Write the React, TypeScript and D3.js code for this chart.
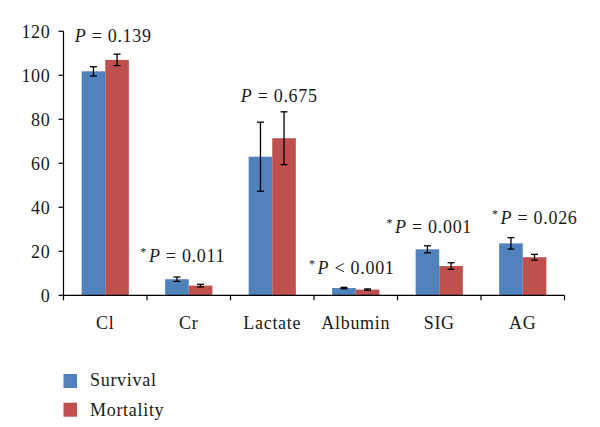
import React from "react";
import * as d3 from "d3";

const categories = ["Cl", "Cr", "Lactate", "Albumin", "SIG", "AG"];
const seriesNames = ["Survival", "Mortality"];
const survival = [101.8, 7.3, 63, 3.3, 20.9, 23.6];
const survivalErr = [2.1, 1.0, 15.7, 0.3, 1.6, 2.6];
const mortality = [107, 4.4, 71.4, 2.6, 13.3, 17.3];
const mortalityErr = [2.6, 0.6, 12, 0.3, 1.5, 1.3];
const yTicks = [0, 20, 40, 60, 80, 100, 120];
const pStar = [false, true, false, true, true, true];
const pText = ["= 0.139", "= 0.011", "= 0.675", "< 0.001", "= 0.001", "= 0.026"];
const pLevel = [115, 15.3, 88, 9.7, 28.3, 32.4];
const pShift = [8, -6, 7, -4, -10, 12];

const colors = ["#4F81BD", "#C0504D"];
const FONT = "'Liberation Serif', 'Times New Roman', serif";
const LS = 0.7;

export default function App() {
  const W = 600, H = 427;
  const x0 = 63.5, x1 = 564.5;
  const yBase = 295.3, yTop = 31.3;
  const x = d3.scaleBand<string>().domain(categories).range([x0, x1]).paddingInner(0).paddingOuter(0);
  const y = d3.scaleLinear().domain([0, 120]).range([yBase, yTop]);
  const bw = x.bandwidth();
  const groupW = bw * 0.565;
  const sub = d3.scaleBand<number>().domain([0, 1]).range([0, groupW]);
  const series = [
    { vals: survival, errs: survivalErr },
    { vals: mortality, errs: mortalityErr },
  ];
  return (
    <svg width={W} height={H} style={{ position: "absolute", left: 0, top: 0, background: "#fff" }} fontFamily={FONT} letterSpacing={LS}>
      {series.map((s, si) =>
        categories.map((c, i) => {
          const bx = (x(c) as number) + (bw - groupW) / 2 + (sub(si) as number);
          const cx = bx + sub.bandwidth() / 2;
          const v = s.vals[i], e = s.errs[i];
          return (
            <g key={`${si}-${i}`}>
              <rect x={bx} y={y(v)} width={sub.bandwidth()} height={y(0) - y(v)} fill={colors[si]} />
              <line x1={cx} x2={cx} y1={y(v + e)} y2={y(v - e)} stroke="#000" strokeWidth={1.3} />
              <line x1={cx - 3.5} x2={cx + 3.5} y1={y(v + e)} y2={y(v + e)} stroke="#000" strokeWidth={1.3} />
              <line x1={cx - 3.5} x2={cx + 3.5} y1={y(v - e)} y2={y(v - e)} stroke="#000" strokeWidth={1.3} />
            </g>
          );
        })
      )}
      {/* y axis */}
      <line x1={x0} x2={x0} y1={y(0)} y2={y(120)} stroke="#000" strokeWidth={1.2} />
      {yTicks.map((t) => (
        <g key={t}>
          <line x1={x0 - 5} x2={x0} y1={y(t)} y2={y(t)} stroke="#000" strokeWidth={1.2} />
          <text x={x0 - 13} y={y(t)} dy="0.35em" textAnchor="end" fontSize={18} fill="#1a1a1a">{t}</text>
        </g>
      ))}
      {/* x axis */}
      <line x1={x0} x2={x1} y1={y(0)} y2={y(0)} stroke="#000" strokeWidth={1.2} />
      {[...categories.map((c) => x(c) as number), x1].map((p, i) => (
        <line key={i} x1={p} x2={p} y1={y(0)} y2={y(0) + 5} stroke="#000" strokeWidth={1.2} />
      ))}
      {categories.map((c) => (
        <text key={c} x={(x(c) as number) + bw / 2} y={328.5} textAnchor="middle" fontSize={18} fill="#1a1a1a">{c}</text>
      ))}
      {/* P annotations */}
      {categories.map((c, i) => (
        <text key={c} x={(x(c) as number) + bw / 2 + pShift[i]} y={y(pLevel[i])} textAnchor="middle" fontSize={18} fill="#1a1a1a">
          {pStar[i] ? <tspan fontSize={12} dy={-6}>*</tspan> : null}
          <tspan fontStyle="italic" dy={pStar[i] ? 6 : 0} dx={pStar[i] ? 2 : 0}>P</tspan>
          <tspan> {pText[i]}</tspan>
        </text>
      ))}
      {/* legend */}
      {seriesNames.map((n, i) => (
        <g key={n}>
          <rect x={63.5} y={374 + i * 28.7} width={13.5} height={14} fill={colors[i]} />
          <text x={90} y={386 + i * 29.5} fontSize={18} fill="#1a1a1a">{n}</text>
        </g>
      ))}
    </svg>
  );
}
